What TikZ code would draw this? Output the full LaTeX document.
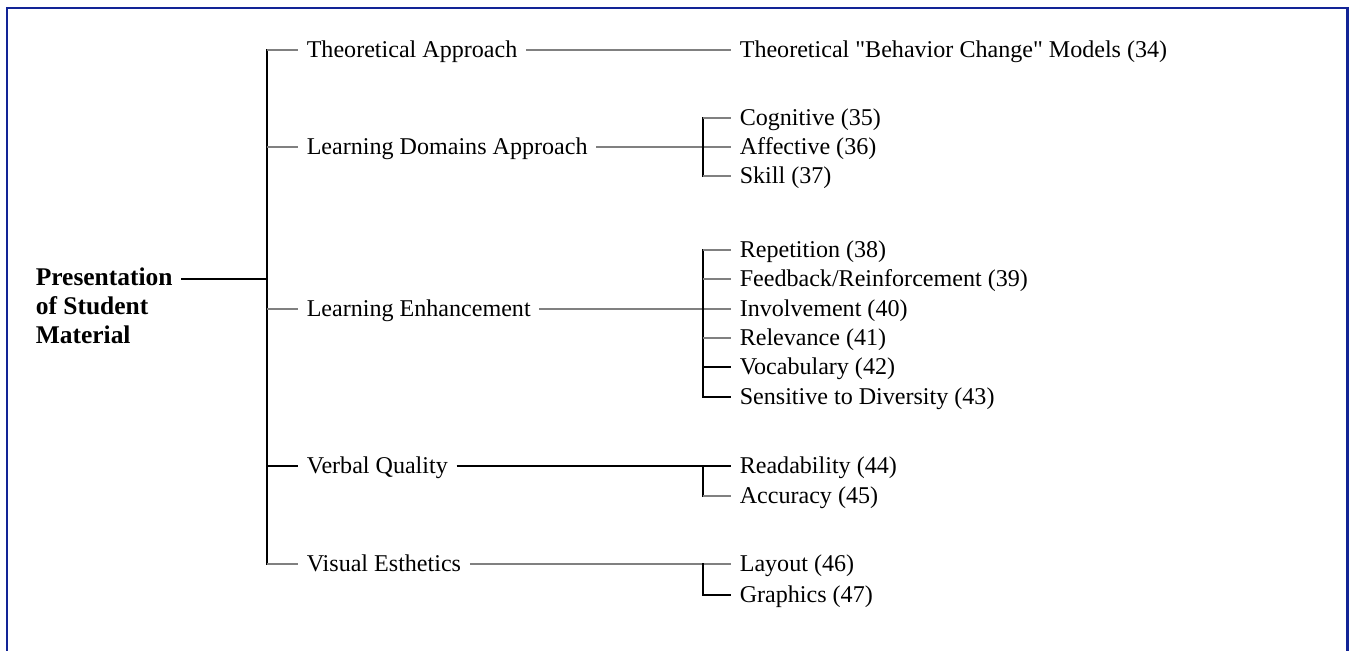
\documentclass[tikz,border=0pt]{standalone}
\usepackage{fontspec}
\setmainfont{Liberation Serif}
\usetikzlibrary{positioning}
\definecolor{frameblue}{RGB}{18,36,150}

\begin{document}
\begin{tikzpicture}[
  x=0.02cm, y=-0.02cm,
  root/.style={anchor=west, inner sep=0pt, outer xsep=5pt, align=left, font=\fontsize{14.5}{16.4}\selectfont\bfseries},
  topic/.style={anchor=west, inner sep=0pt, outer xsep=5pt, outer ysep=0pt, text height=9pt, text depth=0pt, font=\fontsize{13.7}{16}\selectfont},
  link/.style={line width=1.1pt, black},
  faint/.style={line width=1.1pt, black!50}
]
  \useasboundingbox (0,0) rectangle (1349,650);
  \draw[frameblue, line width=1.7pt] (7,652) -- (7,8) -- (1347,8) -- (1347,652);

  % root and first level
  \node[root] (pres) at (27,306) {Presentation\\of Student\\Material};
  \node[topic] (theo) at (298,50) {Theoretical Approach};
  \node[topic] (dom) at (298,147) {Learning Domains Approach};
  \node[topic] (enh) at (298,309) {Learning Enhancement};
  \node[topic] (verbal) at (298,466) {Verbal Quality};
  \node[topic] (visual) at (298,564) {Visual Esthetics};

  % second level
  \node[topic] (models) at (731,50) {Theoretical \textquotedbl Behavior Change\textquotedbl{} Models (34)};
  \node[topic] (cog) at (731,118) {Cognitive (35)};
  \node[topic] (aff) at (731,147) {Affective (36)};
  \node[topic] (skill) at (731,176) {Skill (37)};
  \node[topic] (rep) at (731,250) {Repetition (38)};
  \node[topic] (feed) at (731,279) {Feedback/Reinforcement (39)};
  \node[topic] (inv) at (731,309) {Involvement (40)};
  \node[topic] (rel) at (731,338) {Relevance (41)};
  \node[topic] (voc) at (731,367) {Vocabulary (42)};
  \node[topic] (div) at (731,397) {Sensitive to Diversity (43)};
  \node[topic] (read) at (731,466) {Readability (44)};
  \node[topic] (acc) at (731,496) {Accuracy (45)};
  \node[topic] (lay) at (731,564) {Layout (46)};
  \node[topic] (gra) at (731,595) {Graphics (47)};

  \coordinate (hub) at (267,279);
  \coordinate (spine) at (267,0);
  \coordinate (fork) at (703,0);

  % trunk
  \draw[link] (hub -| pres.east) -- (hub);
  \draw[link, line cap=rect] (spine |- theo) -- (spine |- visual);
  \draw[faint] (spine |- theo) -- (theo.west);
  \draw[faint] (spine |- dom) -- (dom.west);
  \draw[faint] (spine |- enh) -- (enh.west);
  \draw[link] (spine |- verbal) -- (verbal.west);
  \draw[faint] (spine |- visual) -- (visual.west);

  % theoretical approach
  \draw[faint] (theo.east) -- (models.west);

  % learning domains
  \draw[faint] (dom.east) -- (aff.west);
  \draw[link, line cap=rect] (fork |- cog) -- (fork |- skill);
  \draw[faint] (fork |- cog) -- (cog.west);
  \draw[faint] (fork |- skill) -- (skill.west);

  % learning enhancement
  \draw[faint] (enh.east) -- (inv.west);
  \draw[link, line cap=rect] (fork |- rep) -- (fork |- div);
  \draw[faint] (fork |- rep) -- (rep.west);
  \draw[faint] (fork |- feed) -- (feed.west);
  \draw[faint] (fork |- rel) -- (rel.west);
  \draw[link] (fork |- voc) -- (voc.west);
  \draw[link] (fork |- div) -- (div.west);

  % verbal quality
  \draw[link] (verbal.east) -- (read.west);
  \draw[link, line cap=rect] (fork |- read) -- (fork |- acc);
  \draw[faint] (fork |- acc) -- (acc.west);

  % visual esthetics
  \draw[faint] (visual.east) -- (lay.west);
  \draw[link, line cap=rect] (fork |- lay) -- (fork |- gra);
  \draw[link] (fork |- gra) -- (gra.west);
\end{tikzpicture}
\end{document}
